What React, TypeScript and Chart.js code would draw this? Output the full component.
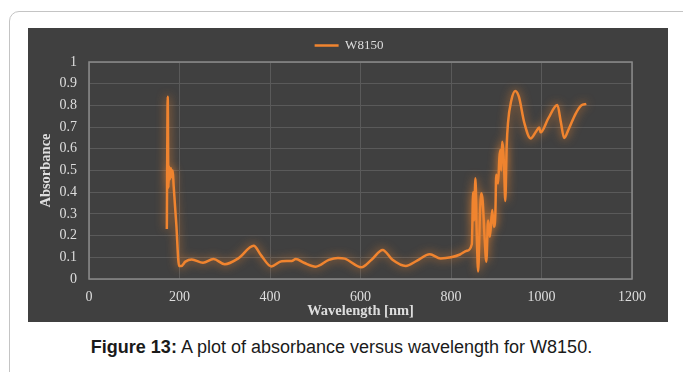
import React, { useEffect, useRef } from "react";
import { Chart, registerables } from "chart.js";

Chart.register(...registerables);

const seriesName = "W8150";
const xTitle = "Wavelength [nm]";
const yTitle = "Absorbance";
const captionBold = "Figure 13:";
const captionText = " A plot of absorbance versus wavelength for W8150.";

const xTickValues = [0, 200, 400, 600, 800, 1000, 1200];
const yTickLabels = ["0", "0.1", "0.2", "0.3", "0.4", "0.5", "0.6", "0.7", "0.8", "0.9", "1"];

const wavelength = [
  172, 174, 175.5, 177, 179, 181, 183, 185, 187, 193, 199, 204, 213, 227, 252, 275, 300, 330, 364, 380,
  403, 426, 448, 457, 475, 501, 530, 550, 565, 602, 625, 649, 670, 700, 725, 753, 777, 800, 820, 835,
  846, 849, 851, 854, 857, 860, 864, 867, 870, 874, 878, 882, 886, 891, 895, 898, 900, 904, 907, 909,
  911, 913, 917, 920, 923, 926, 933, 942, 950, 962, 976, 988, 995, 998, 1015, 1035, 1043, 1050, 1060, 1075,
  1088, 1099,
];
const absorbance = [
  0.23, 0.84, 0.42, 0.52, 0.46, 0.51, 0.47, 0.5, 0.43, 0.25, 0.06, 0.06, 0.08, 0.09, 0.075, 0.092, 0.068, 0.095, 0.153, 0.11,
  0.058, 0.082, 0.083, 0.092, 0.075, 0.057, 0.088, 0.097, 0.094, 0.054, 0.09, 0.134, 0.09, 0.06, 0.085, 0.114, 0.095, 0.1, 0.113, 0.13,
  0.16, 0.4, 0.27, 0.464, 0.2, 0.035, 0.3, 0.395, 0.36, 0.2, 0.08, 0.27, 0.195, 0.318, 0.24, 0.3, 0.48, 0.44, 0.56, 0.594,
  0.5, 0.633, 0.533, 0.36, 0.61, 0.72, 0.82, 0.866, 0.84, 0.72, 0.648, 0.68, 0.698, 0.676, 0.74, 0.802, 0.72, 0.65, 0.69, 0.76,
  0.8, 0.807,
];

const SERIF = "'Liberation Serif', 'Times New Roman', serif";
const LABEL = "#dedede";
const ORANGE = "#f0842f";

const glowPlugin = {
  id: "glow",
  beforeDatasetDraw(chart: any) {
    const ctx = chart.ctx;
    ctx.save();
    ctx.shadowColor = "rgba(245,135,45,0.85)";
    ctx.shadowBlur = 10;
  },
  afterDatasetDraw(chart: any) {
    chart.ctx.restore();
  },
};

const framePlugin = {
  id: "frame",
  beforeDatasetsDraw(chart: any) {
    const { ctx, chartArea } = chart;
    ctx.save();
    ctx.strokeStyle = "#8a8a8a";
    ctx.lineWidth = 1.5;
    ctx.strokeRect(chartArea.left, chartArea.top, chartArea.right - chartArea.left, chartArea.bottom - chartArea.top);
    ctx.restore();
  },
};

const legendShiftPlugin = {
  id: "legendShift",
  afterLayout(chart: any) {
    const l = chart.legend;
    if (l) {
      l.left += 19;
      l.right += 19;
    }
  },
};

export default function App() {
  const ref = useRef<HTMLCanvasElement | null>(null);

  useEffect(() => {
    if (!ref.current) return;
    const chart = new Chart(ref.current, {
      type: "line",
      data: {
        datasets: [
          {
            label: seriesName,
            data: wavelength.map((x, i) => ({ x, y: absorbance[i] })),
            borderColor: ORANGE,
            backgroundColor: ORANGE,
            borderWidth: 2.5,
            pointRadius: 0,
            cubicInterpolationMode: "monotone",
            fill: false,
          },
        ],
      },
      options: {
        animation: false,
        responsive: true,
        maintainAspectRatio: false,
        devicePixelRatio: 1,
        layout: { padding: { top: 0, right: 36, left: 0, bottom: 0 } },
        plugins: {
          legend: {
            display: true,
            position: "top",
            labels: {
              color: LABEL,
              font: { family: SERIF, size: 13 },
              usePointStyle: true,
              pointStyle: "line",
              pointStyleWidth: 24,
              padding: 11,
            },
          },
          tooltip: { enabled: false },
        },
        scales: {
          x: {
            type: "linear",
            min: 0,
            max: 1200,
            afterBuildTicks: (s: any) => {
              s.ticks = xTickValues.map((v) => ({ value: v }));
            },
            afterFit: (s: any) => {
              s.height = 43;
            },
            ticks: {
              color: LABEL,
              font: { family: SERIF, size: 14 },
              padding: 10,
              maxRotation: 0,
              callback: (v: any) => String(v),
            },
            grid: { color: "#5a5a5a", lineWidth: 1, drawTicks: false },
            border: { display: false },
            title: {
              display: true,
              text: xTitle,
              color: LABEL,
              font: { family: SERIF, size: 14.5, weight: "bold" },
              padding: { top: 0, bottom: 2 },
            },
          },
          y: {
            type: "linear",
            min: 0,
            max: 1,
            afterBuildTicks: (s: any) => {
              s.ticks = yTickLabels.map((t) => ({ value: parseFloat(t) }));
            },
            afterFit: (s: any) => {
              s.width = 61;
            },
            ticks: {
              color: LABEL,
              font: { family: SERIF, size: 14 },
              padding: 12,
              callback: (v: any) => yTickLabels[Math.round(v * 10)] ?? String(v),
            },
            grid: { color: "#5a5a5a", lineWidth: 1, drawTicks: false },
            border: { display: false },
            title: {
              display: true,
              text: yTitle,
              color: LABEL,
              font: { family: SERIF, size: 14.5, weight: "bold" },
              padding: { top: 10, bottom: 0 },
            },
          },
        },
      },
      plugins: [framePlugin, glowPlugin, legendShiftPlugin],
    } as any);
    return () => chart.destroy();
  }, []);

  return (
    <div style={{ position: "fixed", left: 0, top: 0, width: 683, height: 372, background: "#fff", overflow: "hidden" }}>
      <div
        style={{
          position: "absolute",
          left: 9,
          top: 11,
          width: 720,
          height: 420,
          border: "1px solid #c4c4c4",
          borderRadius: 10,
          boxSizing: "border-box",
        }}
      />
      <div style={{ position: "absolute", left: 28, top: 28, width: 640, height: 294, background: "#404040" }}>
        <canvas ref={ref} />
      </div>
      <div
        style={{
          position: "absolute",
          left: 0,
          width: 683,
          top: 336,
          textAlign: "center",
          fontFamily: "'Liberation Sans', Arial, sans-serif",
          fontSize: 18,
          color: "#1a1a1a",
          lineHeight: "22px",
        }}
      >
        <b>{captionBold}</b>
        {captionText}
      </div>
    </div>
  );
}
